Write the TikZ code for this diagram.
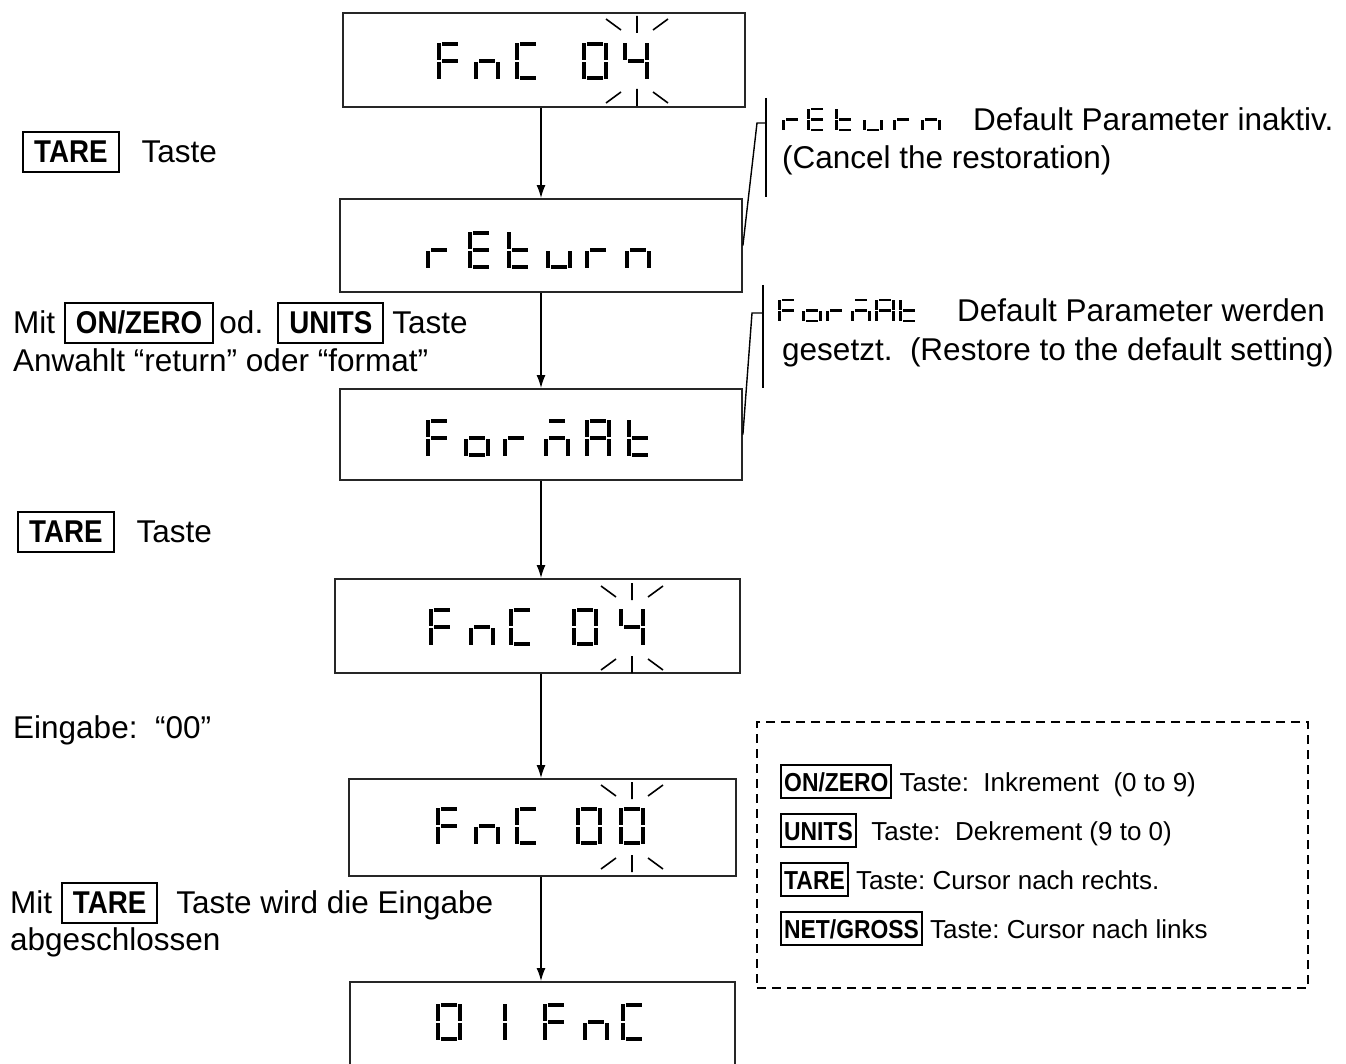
\documentclass[tikz,border=0pt]{standalone}
\usepackage{fontspec}
\setmainfont{Liberation Sans}
\newfontfamily\keyfont[FakeStretch=0.88]{Liberation Sans}
\usetikzlibrary{arrows.meta}
\frenchspacing

% seven segment bars, cell 26 x 38, y pointing down
\newcommand\lcdsega{\fill[lcdseg] (5,0) rectangle (21,3.8);}
\newcommand\lcdsegb{\fill[lcdseg] (22.2,1) rectangle (26,18);}
\newcommand\lcdsegc{\fill[lcdseg] (22.2,20) rectangle (26,37);}
\newcommand\lcdsegd{\fill[lcdseg] (5,34.2) rectangle (21,38);}
\newcommand\lcdsege{\fill[lcdseg] (0,20) rectangle (3.8,37);}
\newcommand\lcdsegf{\fill[lcdseg] (0,1) rectangle (3.8,18);}
\newcommand\lcdsegg{\fill[lcdseg] (5,17.1) rectangle (21,20.9);}
\newcommand\lcdchar[3][]{%
  \begin{scope}[shift={#2},#1]
    \edef\lcdlist{#3}%
    \foreach \s in \lcdlist {\csname lcdseg\s\endcsname}
  \end{scope}}
% glyphs
\newcommand\lcdF{a,e,f,g}
\newcommand\lcdn{c,e,g}
\newcommand\lcdC{a,d,e,f}
\newcommand\lcdzero{a,b,c,d,e,f}
\newcommand\lcdone{b,c}
\newcommand\lcdfour{b,c,f,g}
\newcommand\lcdr{e,g}
\newcommand\lcdE{a,d,e,f,g}
\newcommand\lcdt{d,e,f,g}
\newcommand\lcdu{c,d,e}
\newcommand\lcdo{c,d,e,g}
\newcommand\lcdM{a,c,e,g}
\newcommand\lcdA{a,b,c,e,f,g}

\newcommand\taste[1]{{\setlength\fboxsep{0pt}\setlength\fboxrule{2pt}%
  \fbox{\hspace{10pt}\rule[-8.5pt]{0pt}{38pt}{\keyfont\bfseries #1}\hspace{10pt}}}}
\newcommand\legkey[1]{{\setlength\fboxsep{0pt}\setlength\fboxrule{2pt}%
  \fbox{\hspace{2pt}\rule[-6pt]{0pt}{31pt}{\keyfont\bfseries #1}\hspace{2pt}}}}

\begin{document}
\begin{tikzpicture}[x=1pt,y=-1pt,font=\fontsize{31.5}{37}\selectfont]
    \tikzset{
      lcdbox/.style={draw=black!85,line width=1.8pt,inner sep=0pt},
      lcdseg/.style={black},
      small/.style={xscale=0.78,yscale=0.6},
      blinkline/.style={line width=1.6pt},
      flow/.style={line width=1.5pt,-{Latex[length=13pt,width=9pt]}},
      callout/.style={line width=1.4pt},
      txt/.style={anchor=base west,inner sep=0pt},
      legendbox/.style={draw,line width=2pt,dash pattern=on 9pt off 6pt,inner sep=0pt},
      blink/.pic={
        \draw[blinkline] (-31,-42) -- (-16,-31) (0,-45) -- (0,-28) (16,-31) -- (31,-42);
        \draw[blinkline] (-31,42) -- (-16,31) (0,28) -- (0,45) (16,31) -- (31,42);
      }
    }
    \useasboundingbox (0,0) rectangle (1346,1064);
    \clip (0,0) rectangle (1346,1064);

    \node[lcdbox,minimum width=402pt,minimum height=94pt] (fnc1) at (544,60) {};
    \node[lcdbox,minimum width=402pt,minimum height=93pt] (ret) at (541,245.5) {};
    \node[lcdbox,minimum width=402pt,minimum height=91pt] (fmt) at (541,434.5) {};
    \node[lcdbox,minimum width=405pt,minimum height=94pt] (fnc2) at (537.5,626) {};
    \node[lcdbox,minimum width=387pt,minimum height=97pt] (fnc3) at (542.5,827.5) {};
    \node[lcdbox,minimum width=385pt,minimum height=120pt] (done) at (542.5,1042) {};

    \foreach \segs/\x in {\lcdF/437,\lcdn/474,\lcdC/515,\lcdzero/582,\lcdfour/623}
      {\lcdchar{(\x,42)}{\segs}}
    \foreach \segs/\x in {\lcdr/426,\lcdE/468,\lcdt/507,\lcdu/546,\lcdr/585,\lcdn/625}
      {\lcdchar{(\x,231)}{\segs}}
    \foreach \segs/\x in {\lcdF/426,\lcdo/464,\lcdr/503,\lcdM/544,\lcdA/585,\lcdt/627}
      {\lcdchar{(\x,419)}{\segs}}
    \foreach \segs/\x in {\lcdF/429,\lcdn/469,\lcdC/509,\lcdzero/572,\lcdfour/619}
      {\lcdchar{(\x,608)}{\segs}}
    \foreach \segs/\x in {\lcdF/436,\lcdn/474,\lcdC/515,\lcdzero/576,\lcdzero/619}
      {\lcdchar{(\x,807)}{\segs}}
    \foreach \segs/\x in {\lcdzero/436,\lcdone/481,\lcdF/543,\lcdn/583,\lcdC/621}
      {\lcdchar{(\x,1003)}{\segs}}

    \pic at (637,61) {blink};
    \pic at (632,628) {blink};
    \pic at (632,827) {blink};

    \coordinate (spine) at (541,0);
    \draw[flow] (fnc1.south -| spine) -- (ret.north -| spine);
    \draw[flow] (ret.south -| spine) -- (fmt.north -| spine);
    \draw[flow] (fmt.south -| spine) -- (fnc2.north -| spine);
    \draw[flow] (fnc2.south -| spine) -- (fnc3.north -| spine);
    \draw[flow] (fnc3.south -| spine) -- (done.north -| spine);
    %
    \node[txt] (tare1) at (22,163) {\taste{TARE}\hspace{22pt}Taste};
    \node[txt] (select1) at (13,334) {Mit \taste{ON/ZERO}\,od.\hspace{14pt}\taste{UNITS}\hspace{8pt}Taste};
    \node[txt] (select2) at (13,371) {Anwahlt “return” oder “format”};
    \node[txt] (tare2) at (17,542) {\taste{TARE}\hspace{22pt}Taste};
    \node[txt] (input) at (13,738) {Eingabe:\ \ “00”};
    \node[txt] (close1) at (10,913) {Mit \taste{TARE}\hspace{18pt}Taste wird die Eingabe};
    \node[txt] (close2) at (10,950) {abgeschlossen};
    %
    \foreach \segs/\x in {\lcdr/782,\lcdE/807,\lcdt/835,\lcdu/863,\lcdr/893,\lcdn/921}
      {\lcdchar[small]{(\x,108)}{\segs}}
    \node[txt] (retnote1) at (973,131) {Default Parameter inaktiv.};
    \node[txt] (retnote2) at (782,169) {(Cancel the restoration)};
    \foreach \segs/\x in {\lcdF/778,\lcdo/802,\lcdr/826,\lcdM/851,\lcdA/875,\lcdt/899}
      {\lcdchar[small]{(\x,299)}{\segs}}
    \node[txt] (fmtnote1) at (957,322) {Default Parameter werden};
    \node[txt] (fmtnote2) at (782,360) {gesetzt.\ \ (Restore to the default setting)};

    \coordinate (rettop) at (766,98);
    \coordinate (retbot) at (766,197);
    \coordinate (retknee) at (757,123);
    \draw[callout] (rettop) -- (retbot);
    \draw[callout] (ret.east) -- (retknee) -- (retknee -| rettop);
    \coordinate (fmttop) at (763,285);
    \coordinate (fmtbot) at (763,388);
    \coordinate (fmtknee) at (752,313);
    \draw[callout] (fmttop) -- (fmtbot);
    \draw[callout] (fmt.east) -- (fmtknee) -- (fmtknee -| fmttop);
    %
    \node[legendbox,minimum width=551pt,minimum height=266pt] (keys) at (1032.5,855) {};
    \begin{scope}[font=\fontsize{26}{30}\selectfont]
      \node[txt] (keyon) at (780,791) {\legkey{ON/ZERO} Taste:\ \ Inkrement\ \ (0 to 9)};
      \node[txt] (keyunits) at (780,840) {\legkey{UNITS}\ \ Taste:\ \ Dekrement (9 to 0)};
      \node[txt] (keytare) at (780,889) {\legkey{TARE} Taste: Cursor nach rechts.};
      \node[txt] (keynet) at (780,938) {\legkey{NET/GROSS} Taste: Cursor nach links};
    \end{scope}
\end{tikzpicture}
\end{document}
